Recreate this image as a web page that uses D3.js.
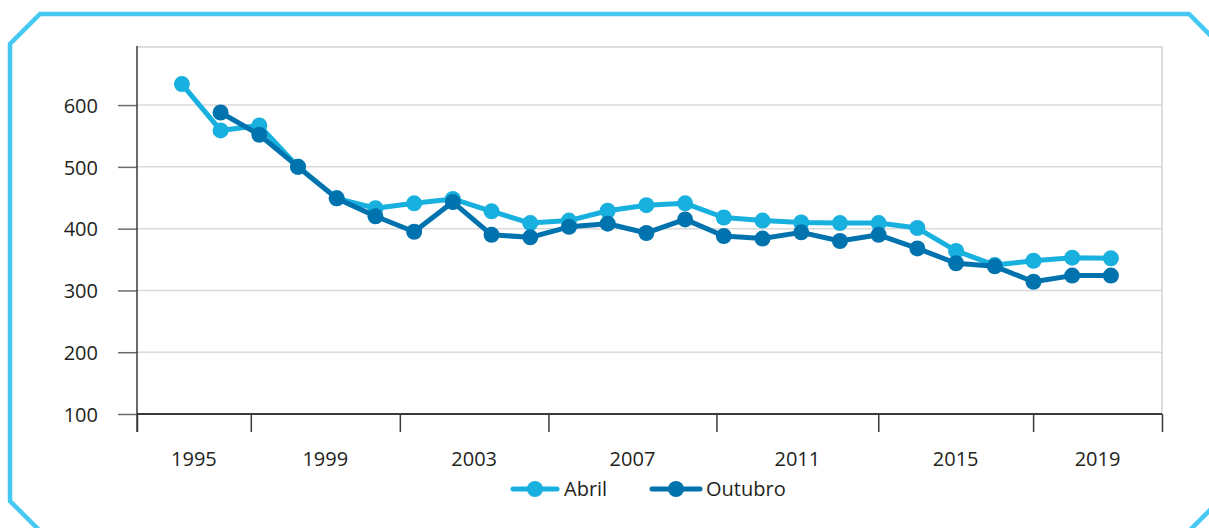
<!DOCTYPE html>
<html>
<head>
<meta charset="utf-8">
<script src="https://cdn.jsdelivr.net/npm/d3@7/dist/d3.min.js"></script>
<style>
  html, body { margin: 0; padding: 0; background: #fff; }
  svg { display: block; }
  text { font-family: "Open Sans", "Noto Sans", sans-serif; fill: #231f20; }
</style>
</head>
<body>
<svg id="chart" width="1209" height="528"></svg>
<script>
// Series, one value per year
const years = d3.range(1995, 2020);
const abril = [634, 559, 567, 500, 449, 433, 441, 448, 428, 409, 413, 429, 438, 441, 418,
               413, 410, 409, 409, 401, 364, 341, 348, 353, 352];
const outubro = [null, 588, 552, 500, 449, 420, 395, 443, 390, 386, 403, 408, 393, 415, 388,
                 384, 394, 380, 390, 368, 344, 339, 314, 324, 324];

// Y axis ticks and x axis group boundaries (tick marks) with their labels
const yTicks = [100, 200, 300, 400, 500, 600];
const xBounds = [1993.84, 1996.78, 2000.63, 2004.47, 2008.81, 2012.99, 2016.99, 2020.32];
const xLabels = ["1995", "1999", "2003", "2007", "2011", "2015", "2019"];

const seriesNames = ["Abril", "Outubro"];
const colors = { Abril: "#18b0de", Outubro: "#0073ae" };

const svg = d3.select("#chart");
const FONT = 20;

// Decorative frame with cut corners
const frame = [[40, 14], [1189, 14], [1222, 47], [1222, 498], [1188, 532],
               [41, 532], [10, 501], [10, 44]];
svg.append("path")
  .attr("d", d3.line()(frame) + "Z")
  .attr("fill", "none")
  .attr("stroke", "#45c8f2")
  .attr("stroke-width", 4.5)
  .attr("stroke-linejoin", "miter");

const plot = { left: 137, right: 1162, top: 47, bottom: 414 };

const x = d3.scaleLinear()
  .domain([xBounds[0], xBounds[xBounds.length - 1]])
  .range([plot.left, plot.right]);
const y = d3.scaleLinear()
  .domain([100, 694])
  .range([plot.bottom, plot.top]);

// Gridlines
svg.append("g")
  .selectAll("line")
  .data(yTicks.filter(d => d > 100))
  .join("line")
  .attr("x1", plot.left).attr("x2", plot.right)
  .attr("y1", d => y(d)).attr("y2", d => y(d))
  .attr("stroke", "#d9d9d9").attr("stroke-width", 1.5);

// Plot frame top and right
svg.append("path")
  .attr("d", `M${plot.left},${plot.top}H${plot.right}V${plot.bottom}`)
  .attr("fill", "none")
  .attr("stroke", "#d4d4d4").attr("stroke-width", 1.5);

// Y axis
const yAxis = d3.axisLeft(y)
  .tickValues(yTicks)
  .tickSize(19)
  .tickPadding(20)
  .tickFormat(d3.format("d"));
const gy = svg.append("g")
  .attr("transform", `translate(${plot.left},0)`)
  .call(yAxis);
gy.select(".domain").remove();
gy.selectAll(".tick line").attr("stroke", "#6d6d6d").attr("stroke-width", 1.5);
gy.selectAll(".tick text")
  .attr("font-size", FONT)
  .attr("font-family", null)
  .attr("fill", "#231f20")
  .attr("dy", "0.36em");
svg.append("line")
  .attr("x1", plot.left).attr("x2", plot.left)
  .attr("y1", plot.top - 1).attr("y2", plot.bottom + 18)
  .attr("stroke", "#3a3a3a").attr("stroke-width", 1.5);

// X axis: group boundary marks with labels centered in each group
const xAxis = d3.axisBottom(x)
  .tickValues(xBounds)
  .tickSize(18)
  .tickFormat("");
const gx = svg.append("g")
  .attr("transform", `translate(0,${plot.bottom})`)
  .call(xAxis);
gx.select(".domain").attr("stroke", "#3a3a3a").attr("stroke-width", 2.2)
  .attr("d", `M${plot.left},0H${plot.right}`);
gx.selectAll(".tick line").attr("stroke", "#3a3a3a").attr("stroke-width", 1.5);

svg.append("g")
  .selectAll("text")
  .data(xLabels)
  .join("text")
  .attr("x", (d, i) => x((xBounds[i] + xBounds[i + 1]) / 2))
  .attr("y", 466)
  .attr("text-anchor", "middle")
  .attr("font-size", FONT)
  .text(d => d);

// Lines and markers
const data = {
  Abril: years.map((yr, i) => ({ year: yr, value: abril[i] })),
  Outubro: years.map((yr, i) => ({ year: yr, value: outubro[i] }))
};
const line = d3.line()
  .defined(d => d.value != null)
  .x(d => x(d.year))
  .y(d => y(d.value));

seriesNames.forEach(name => {
  const pts = data[name].filter(d => d.value != null);
  const g = svg.append("g");
  g.append("path")
    .datum(data[name])
    .attr("d", line)
    .attr("fill", "none")
    .attr("stroke", colors[name])
    .attr("stroke-width", 5)
    .attr("stroke-linejoin", "round");
  g.selectAll("circle")
    .data(pts)
    .join("circle")
    .attr("cx", d => x(d.year))
    .attr("cy", d => y(d.value))
    .attr("r", 8)
    .attr("fill", colors[name]);
});

// Legend
const legend = [
  { name: "Abril", x0: 513, x1: 557, tx: 564 },
  { name: "Outubro", x0: 652, x1: 700, tx: 706 }
];
const lg = svg.append("g");
legend.forEach(l => {
  lg.append("line")
    .attr("x1", l.x0).attr("x2", l.x1)
    .attr("y1", 489).attr("y2", 489)
    .attr("stroke", colors[l.name]).attr("stroke-width", 5)
    .attr("stroke-linecap", "round");
  lg.append("circle")
    .attr("cx", (l.x0 + l.x1) / 2).attr("cy", 489).attr("r", 8)
    .attr("fill", colors[l.name]);
  lg.append("text")
    .attr("x", l.tx).attr("y", 496)
    .attr("font-size", FONT)
    .text(l.name);
});
</script>
</body>
</html>
